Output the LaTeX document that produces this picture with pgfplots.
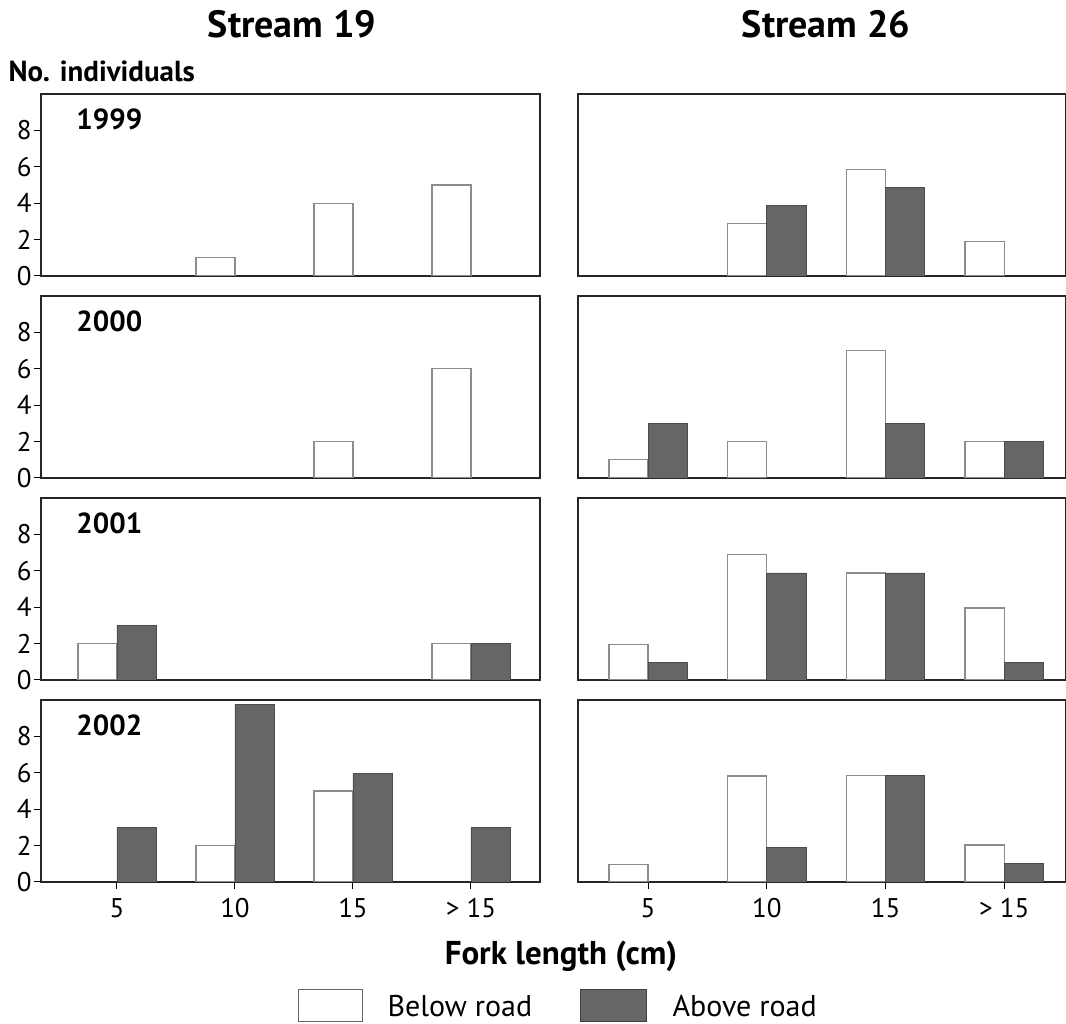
\documentclass[border=0pt]{standalone}
\usepackage{fontspec}
\setmainfont{PT Sans}
\usepackage{pgfplots}
\pgfplotsset{compat=1.18}
\definecolor{barg}{HTML}{666666}
\definecolor{edgeg}{HTML}{8C8C8C}
\pgfplotsset{
  panel/.style={
    scale only axis, width=499pt, height=182pt,
    ymin=0, ymax=10, xmin=0.356, xmax=4.585,
    ytick={0,2,4,6,8}, xtick={1,2,3,4},
    ytick pos=left, xtick pos=bottom,
    axis line style={line width=1.6pt, black!85},
    tick style={line width=1pt, black}, tick align=outside, major tick length=7pt,
    ticklabel style={font=\fontsize{27}{30}\selectfont},
    yticklabel style={xshift=1pt},
    xticklabel style={yshift=-6pt},
    /pgf/number format/assume math mode=true,
    ybar, bar width=0.33,
  },
  notbottom/.style={xticklabels={}, xtick=\empty},
  bottom/.style={xticklabels={5,10,15,{> 15}}},
  rightcol/.style={ytick=\empty, width=488pt, xmin=0.41, xmax=4.52},
  below/.style={fill=white, draw=edgeg, line width=1.3pt, bar shift=-0.165},
  above/.style={fill=barg, draw=black!70, line width=0.8pt, bar shift=0.165},
}
\tikzset{yearlab/.style={font=\bfseries\fontsize{29}{32}\selectfont, anchor=west}}
\begin{document}
\begin{tikzpicture}
% ---------- Row 1 : 1999 ----------
\begin{axis}[panel, notbottom, at={(41pt,748pt)}, anchor=south west]
\addplot[below] coordinates {(2,1) (3,4) (4,5)};
\node[yearlab] at (axis description cs:0.064,0.86) {1999};
\end{axis}
\begin{axis}[panel, notbottom, rightcol, at={(578pt,748pt)}, anchor=south west]
\addplot[below] coordinates {(2,2.9) (3,5.85) (4,1.9)};
\addplot[above] coordinates {(2,3.88) (3,4.88)};
\end{axis}
% ---------- Row 2 : 2000 ----------
\begin{axis}[panel, notbottom, at={(41pt,546pt)}, anchor=south west]
\addplot[below] coordinates {(3,2) (4,6)};
\node[yearlab] at (axis description cs:0.064,0.86) {2000};
\end{axis}
\begin{axis}[panel, notbottom, rightcol, at={(578pt,546pt)}, anchor=south west]
\addplot[below] coordinates {(1,1) (2,2) (3,7) (4,2)};
\addplot[above] coordinates {(1,3) (3,3) (4,2)};
\end{axis}
% ---------- Row 3 : 2001 ----------
\begin{axis}[panel, notbottom, at={(41pt,344pt)}, anchor=south west]
\addplot[below] coordinates {(1,2) (4,2)};
\addplot[above] coordinates {(1,3) (4,2)};
\node[yearlab] at (axis description cs:0.064,0.86) {2001};
\end{axis}
\begin{axis}[panel, notbottom, rightcol, at={(578pt,344pt)}, anchor=south west]
\addplot[below] coordinates {(1,1.95) (2,6.88) (3,5.88) (4,3.95)};
\addplot[above] coordinates {(1,0.95) (2,5.88) (3,5.88) (4,0.95)};
\end{axis}
% ---------- Row 4 : 2002 ----------
\begin{axis}[panel, bottom, at={(41pt,142pt)}, anchor=south west]
\addplot[below] coordinates {(2,2) (3,5)};
\addplot[above] coordinates {(1,3) (2,9.75) (3,5.95) (4,3)};
\node[yearlab] at (axis description cs:0.064,0.86) {2002};
\end{axis}
\begin{axis}[panel, bottom, rightcol, at={(578pt,142pt)}, anchor=south west]
\addplot[below] coordinates {(1,0.97) (2,5.82) (3,5.85) (4,2.03)};
\addplot[above] coordinates {(2,1.9) (3,5.86) (4,1.0)};
\end{axis}
% ---------- Texts ----------
\node[font=\bfseries\fontsize{38}{42}\selectfont] at (292pt,1000pt) {Stream 19};
\node[font=\bfseries\fontsize{38}{42}\selectfont] at (826pt,1000pt) {Stream 26};
\node[font=\bfseries\fontsize{29}{32}\selectfont, anchor=west] at (5pt,953pt) {No. individuals};
\node[font=\bfseries\fontsize{33}{37}\selectfont] at (561pt,68pt) {Fork length (cm)};
% ---------- Legend ----------
\draw[fill=white, draw=black!60, line width=1pt] (298pt,2pt) rectangle (362pt,34pt);
\node[font=\fontsize{30}{34}\selectfont, anchor=west] at (384pt,18pt) {Below road};
\draw[fill=barg, draw=black!75, line width=1pt] (580pt,2pt) rectangle (646pt,34pt);
\node[font=\fontsize{30}{34}\selectfont, anchor=west] at (669pt,18pt) {Above road};
\pgfresetboundingbox
\path[use as bounding box] (0pt,0pt) rectangle (1066pt,1024pt);
\end{tikzpicture}
\end{document}
